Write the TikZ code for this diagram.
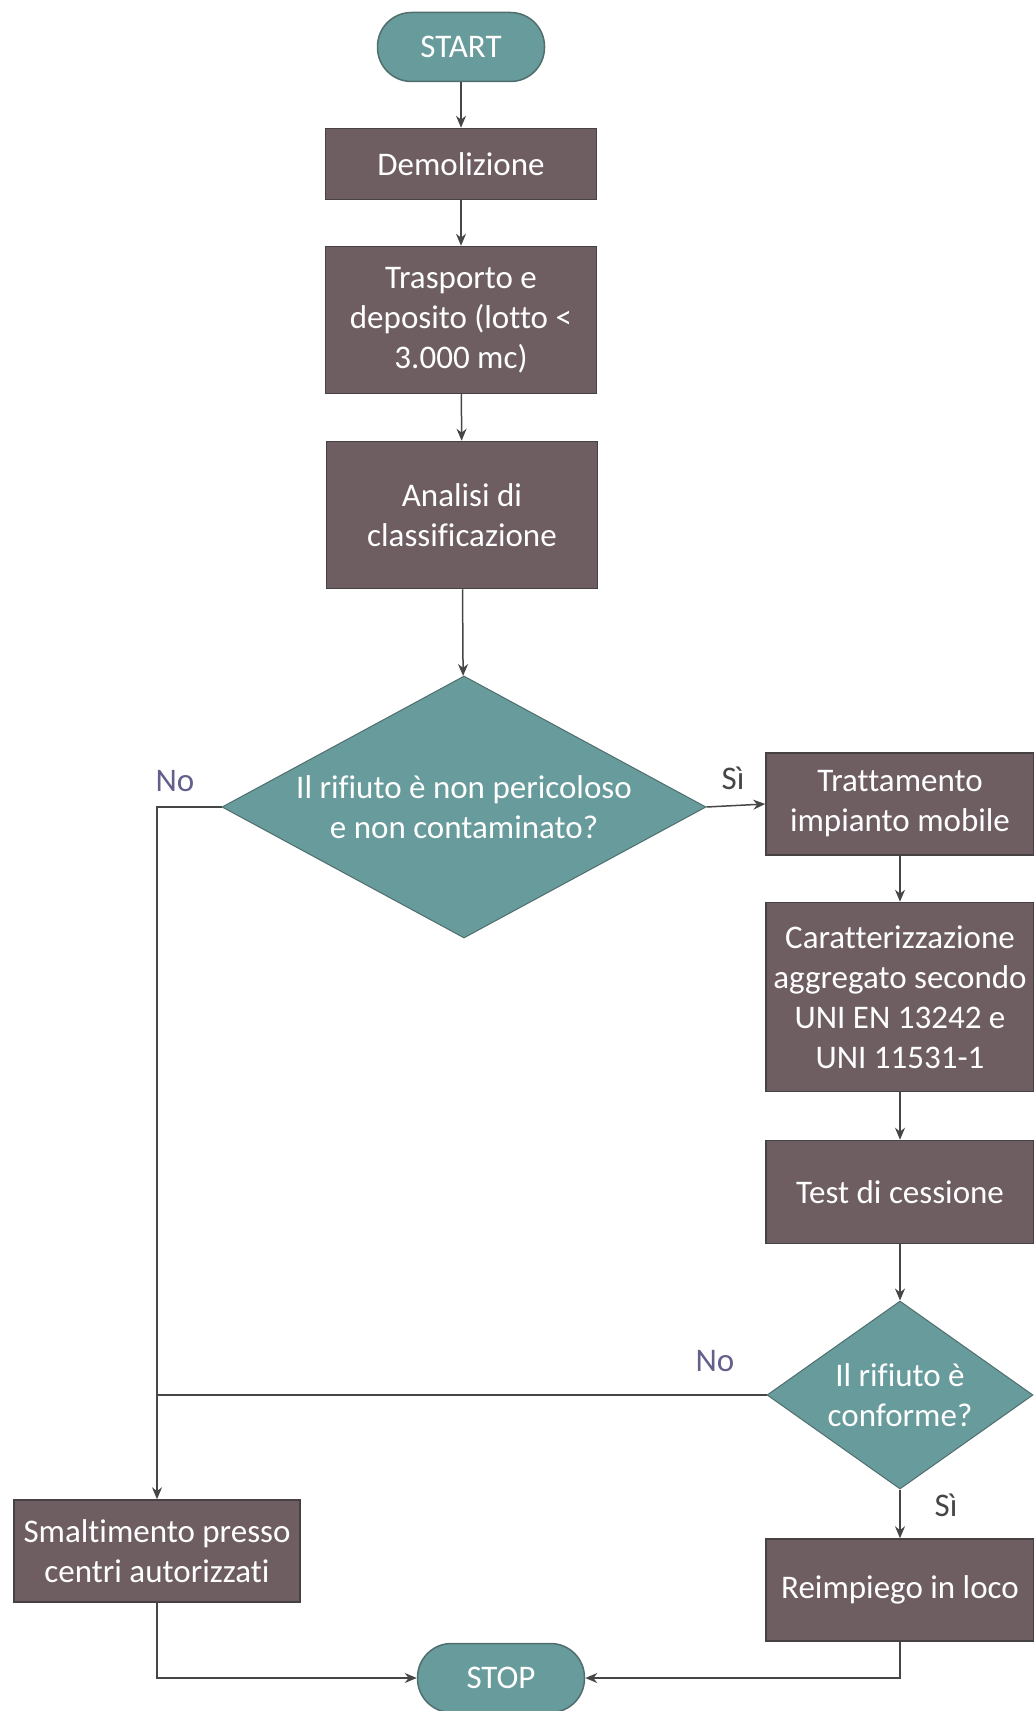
\documentclass[tikz,border=0pt]{standalone}
\usepackage{fontspec}
\setmainfont{Carlito}[Ligatures={NoCommon}]
\usetikzlibrary{shapes.geometric, arrows.meta}

\definecolor{tealfill}{RGB}{104,155,155}
\definecolor{tealline}{RGB}{80,110,110}
\definecolor{boxfill}{RGB}{110,94,98}
\definecolor{boxline}{RGB}{70,66,68}
\definecolor{flowline}{RGB}{70,70,70}
\definecolor{nocol}{RGB}{100,96,140}

\tikzset{
    termbox/.style={draw=tealline, fill=tealfill, line width=0.75pt, rounded corners=17pt,
        minimum width=83.5pt, minimum height=34.5pt, text=white},
    procbox/.style={draw=boxline, fill=boxfill, line width=0.75pt, align=center,
        minimum width=135.5pt, text=white, inner sep=2pt},
    decbox/.style={diamond, draw=tealline, fill=tealfill, line width=0.5pt, align=center,
        text=white, inner sep=-8pt},
    flow/.style={draw=flowline, line width=0.75pt, -{Stealth[length=6pt, width=5pt]}},
    link/.style={draw=flowline, line width=0.75pt},
    lbl/.style={font=\fontsize{16.5}{20}\selectfont}
}

\begin{document}
\begin{tikzpicture}[x=0.5pt, y=-0.5pt, every node/.style={font=\fontsize{16.5}{20}\selectfont}]
    \useasboundingbox (0,0) rectangle (1033,1711);

    % main column
    \node[termbox] (start) at (461,47) {START};
    \node[procbox, minimum height=35.5pt] (demol) at (461,164) {Demolizione};
    \node[procbox, minimum height=73.5pt] (trasp) at (461,320) {Trasporto e\\deposito (lotto <\\3.000 mc)};
    \node[procbox, minimum height=73.5pt] (anal) at (462,515) {Analisi di\\classificazione};
    \node[decbox, aspect=1.85, minimum width=242pt, minimum height=131pt] (dec1) at (464,807)
        {Il rifiuto è non pericoloso\\e non contaminato?};

    % right column
    \node[procbox, minimum width=134pt, minimum height=51pt] (tratt) at (900,804) {Trattamento\\impianto mobile};
    \node[procbox, minimum width=134pt, minimum height=94.5pt] (caratt) at (900,997)
        {Caratterizzazione\\aggregato secondo\\UNI EN 13242 e\\UNI 11531-1};
    \node[procbox, minimum width=134pt, minimum height=51.5pt] (test) at (900,1192) {Test di cessione};
    \node[decbox, aspect=1.4, minimum width=133pt, minimum height=94pt] (dec2) at (900,1395) {Il rifiuto è\\conforme?};
    \node[procbox, minimum width=134pt, minimum height=51pt] (reimp) at (900,1590) {Reimpiego in loco};

    % left column and end
    \node[procbox, minimum width=143pt, minimum height=51pt] (smalt) at (157,1551) {Smaltimento presso\\centri autorizzati};
    \node[termbox] (stop) at (501,1678) {STOP};

    \coordinate (nojoin) at (157,807);
    \coordinate (nojoin2) at (157,1395);

    \draw[flow] (start) -- (demol);
    \draw[flow] (demol) -- (trasp);
    \draw[flow] (trasp) -- (anal);
    \draw[flow] (anal) -- (dec1);
    \draw[flow] (dec1.east) -- (tratt.west);
    \draw[flow] (dec1.west) -- (nojoin) -- (smalt.north);
    \draw[flow] (tratt) -- (caratt);
    \draw[flow] (caratt) -- (test);
    \draw[flow] (test) -- (dec2);
    \draw[link] (dec2.west) -- (nojoin2);
    \draw[flow] (dec2.south) -- (reimp.north);
    \draw[flow] (smalt.south) |- (stop.west);
    \draw[flow] (reimp.south) |- (stop.east);

    % labels
    \node[lbl, text=nocol] (lno1) at (175,781) {No};
    \node[lbl, text=flowline] (lsi1) at (733,778) {Sì};
    \node[lbl, text=nocol] (lno2) at (715,1361) {No};
    \node[lbl, text=flowline] (lsi2) at (946,1505) {Sì};
\end{tikzpicture}
\end{document}
